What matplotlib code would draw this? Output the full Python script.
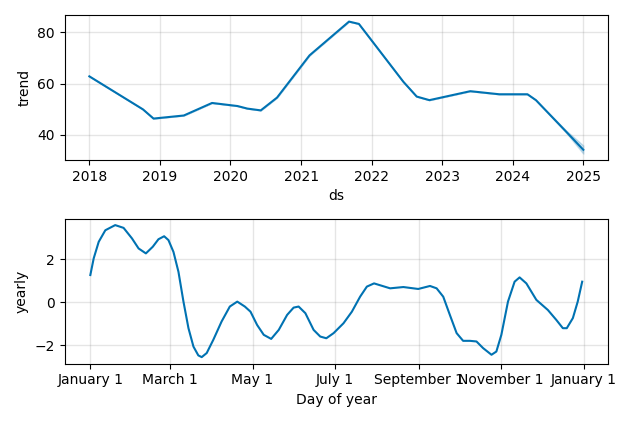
import datetime as dt
import numpy as np
import matplotlib
matplotlib.use("Agg")
import matplotlib.pyplot as plt
import matplotlib.dates as mdates

# trend component (decimal year, value)
trend_t = [2018.00, 2018.76, 2018.91, 2019.34, 2019.74, 2020.10, 2020.24, 2020.43,
           2020.66, 2021.12, 2021.68, 2021.82, 2022.45, 2022.64, 2022.82, 2023.40,
           2023.81, 2024.21, 2024.33, 2024.75, 2025.00]
trend_y = [62.8, 49.9, 46.3, 47.5, 52.4, 51.2, 50.2, 49.5,
           54.5, 71.0, 84.2, 83.3, 60.7, 54.9, 53.5, 57.0,
           55.8, 55.8, 53.5, 41.4, 34.1]
trend_lo = [62.8, 49.9, 46.3, 47.5, 52.4, 51.2, 50.2, 49.5,
            54.5, 71.0, 84.2, 83.3, 60.7, 54.9, 53.5, 57.0,
            55.8, 55.8, 53.5, 41.0, 32.6]
trend_hi = [62.8, 49.9, 46.3, 47.5, 52.4, 51.2, 50.2, 49.5,
            54.5, 71.0, 84.2, 83.3, 60.7, 54.9, 53.5, 57.0,
            55.8, 55.8, 53.5, 41.8, 35.8]

# yearly component (day of year, value)
yearly_d = [0, 2.5, 6.2, 11.1, 18.4, 24.6, 30.8, 35.7, 41.1, 46.2, 50.4, 54.6, 57.8,
            61.5, 65.2, 68.9, 72.6, 76.3, 79.9, 82.4, 86.1, 91, 97.1, 103.2, 108.7,
            114.3, 118.5, 123.4, 128.3, 133.8, 139.4, 145.6, 150.4, 154.1, 159.1,
            165.2, 170.1, 174.6, 180, 187.3, 193.5, 199.6, 204.6, 209.9, 215.6,
            221.8, 231.6, 242.6, 251.3, 256.2, 261.1, 266, 271, 275.8, 280.8, 285.7,
            290.6, 296.8, 300.4, 304.1, 309, 313.9, 317.6, 322.6, 330, 338.5, 344.7,
            349.6, 352.5, 357, 360.6, 363.9]
yearly_y = [1.27, 2.05, 2.82, 3.36, 3.60, 3.47, 2.98, 2.51, 2.28, 2.59, 2.94, 3.08, 2.90,
            2.35, 1.42, 0.03, -1.21, -2.07, -2.48, -2.56, -2.37, -1.75, -0.90, -0.20,
            0.03, -0.20, -0.44, -1.06, -1.52, -1.71, -1.29, -0.59, -0.25, -0.20, -0.51,
            -1.29, -1.60, -1.68, -1.44, -0.98, -0.44, 0.26, 0.73, 0.88, 0.77,
            0.65, 0.71, 0.62, 0.76, 0.65, 0.26, -0.59, -1.44, -1.80, -1.80, -1.83,
            -2.14, -2.45, -2.30, -1.52, 0.03, 0.96, 1.16, 0.88, 0.11, -0.36, -0.82,
            -1.21, -1.21, -0.74, 0.03, 0.96]


def to_date(y):
    year = int(y)
    start = dt.datetime(year, 1, 1)
    days = (dt.datetime(year + 1, 1, 1) - start).days
    return start + dt.timedelta(days=(y - year) * days)


color = "#0072B2"
fig, axes = plt.subplots(2, 1, figsize=(6.34, 4.22), dpi=100)

ax = axes[0]
tdates = [to_date(t) for t in trend_t]
ax.plot(tdates, trend_y, ls="-", c=color)
ax.fill_between(tdates, trend_lo, trend_hi, color=color, alpha=0.2)
ax.xaxis.set_major_locator(mdates.YearLocator())
ax.xaxis.set_major_formatter(mdates.DateFormatter("%Y"))
ax.grid(True, which="major", c="gray", ls="-", lw=1, alpha=0.2)
ax.set_xlabel("ds")
ax.set_ylabel("trend")

ax = axes[1]
ydates = [dt.datetime(2017, 1, 1) + dt.timedelta(days=d) for d in yearly_d]
ax.plot(ydates, yearly_y, ls="-", c=color)
ax.xaxis.set_major_locator(mdates.MonthLocator(bymonth=[1, 3, 5, 7, 9, 11]))
ax.xaxis.set_major_formatter(mdates.DateFormatter("%B %-d"))
ax.set_xlim(dt.datetime(2016, 12, 13), dt.datetime(2018, 1, 19))
ax.grid(True, which="major", c="gray", ls="-", lw=1, alpha=0.2)
ax.set_xlabel("Day of year")
ax.set_ylabel("yearly")

fig.tight_layout()
fig.savefig("out.png")
